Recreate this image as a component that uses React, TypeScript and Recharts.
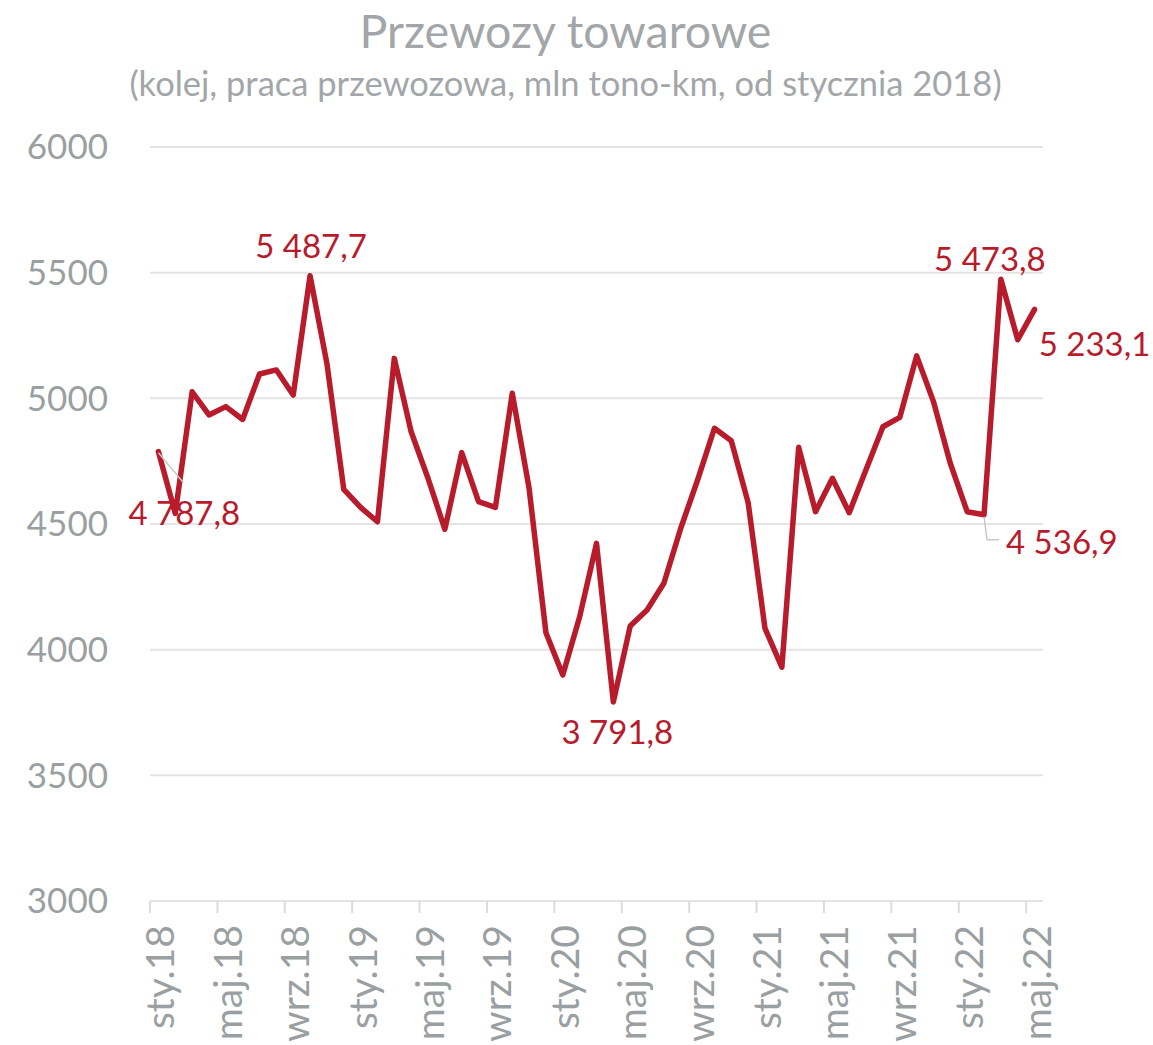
import { LineChart, Line, XAxis, YAxis, CartesianGrid, LabelList } from 'recharts'

const MONTHS = ['sty', 'lut', 'mar', 'kwi', 'maj', 'cze', 'lip', 'sie', 'wrz', 'paź', 'lis', 'gru']
const YEARS = ['18', '19', '20', '21', '22']

// mln tono-km, Jan 2018 .. May 2022
const values = [
  4787.8, 4542, 5026, 4934, 4967, 4916, 5097, 5113, 5013, 5487.7, 5139, 4638,
  4566, 4509, 5159, 4867, 4682, 4479, 4784, 4589, 4566, 5020, 4642, 4067,
  3899, 4131, 4423, 3791.8, 4094, 4158, 4264, 4483, 4675, 4881, 4831, 4585,
  4085, 3930, 4805, 4549, 4682, 4545, 4717, 4887, 4924, 5169, 4987, 4741,
  4549, 4536.9, 5473.8, 5233.1, 5354,
]

const categories = values.map((_, i) => `${MONTHS[i % 12]}.${YEARS[Math.floor(i / 12)]}`)
const yTicks = [3000, 3500, 4000, 4500, 5000, 5500, 6000]

const data = categories.map((c, i) => ({ month: c, value: values[i] }))

const W = 1153
const H = 1045
const PLOT_LEFT = 150
const PLOT_RIGHT = 1043
const PLOT_TOP = 147
const PLOT_BOTTOM = 901
const BAND = (PLOT_RIGHT - PLOT_LEFT) / values.length

const RED = '#b81b2c'
const GRAY = '#9a9fa2'
const FONT = 'Lato, "Noto Sans", sans-serif'

// which points get a value label, and where it sits relative to the point
const labelSpots: Record<number, { dx: number; dy: number; anchor: string; leader?: number[][] }> = {
  0: { dx: -30, dy: 60, anchor: 'start', leader: [[0, 1], [25, 31]] },
  9: { dx: 1, dy: -31, anchor: 'middle' },
  27: { dx: 4, dy: 29, anchor: 'middle' },
  49: { dx: 22, dy: 26, anchor: 'start', leader: [[0, 2], [3, 25], [15, 25]] },
  50: { dx: -11, dy: -21, anchor: 'middle' },
  51: { dx: 21, dy: 3, anchor: 'start' },
}

const fmt = (v: number) => {
  const [a, b] = v.toFixed(1).split('.')
  return `${a.replace(/\B(?=(\d{3})+(?!\d))/g, ' ')},${b}`
}

function PointLabel(props: any) {
  const { x, y, index, value } = props
  const spot = labelSpots[index]
  if (!spot) return null
  return (
    <g>
      {spot.leader && (
        <polyline
          points={spot.leader.map(([lx, ly]) => `${x + lx},${y + ly}`).join(' ')}
          fill="none"
          stroke="#c8c8c8"
          strokeWidth={1.5}
        />
      )}
      <text
        x={x + spot.dx}
        y={y + spot.dy}
        textAnchor={spot.anchor as any}
        dominantBaseline="central"
        fill={RED}
        fontSize={33}
        fontFamily={FONT}
      >
        {fmt(value)}
      </text>
    </g>
  )
}

function MonthTick(props: any) {
  const { x, y, payload } = props
  const tx = x - BAND / 2
  return (
    <g>
      <line x1={tx} y1={y} x2={tx} y2={y + 12} stroke="#dcdcdc" strokeWidth={2} />
      <text
        x={x + 1}
        y={y + 24}
        transform={`rotate(-90, ${x + 1}, ${y + 24})`}
        textAnchor="end"
        dominantBaseline="central"
        fill={GRAY}
        fontSize={39}
        fontFamily={FONT}
      >
        {payload.value}
      </text>
    </g>
  )
}

export default function App() {
  return (
    <div style={{ position: 'absolute', left: 0, top: 0, width: W, height: H, background: '#fff', fontFamily: FONT, overflow: 'hidden' }}>
      <div style={{ position: 'absolute', top: 0, left: -11, width: W, textAlign: 'center', fontSize: 46.5, color: '#a3a6a8', lineHeight: '60px' }}>
        Przewozy towarowe
      </div>
      <div style={{ position: 'absolute', top: 61, left: -11, width: W, textAlign: 'center', fontSize: 34.5, color: '#a3a6a8', lineHeight: '44px' }}>
        (kolej, praca przewozowa, mln tono-km, od stycznia 2018)
      </div>
      <LineChart
        width={W}
        height={H}
        data={data}
        margin={{ top: PLOT_TOP, right: W - PLOT_RIGHT, bottom: 0, left: 0 }}
      >
        <CartesianGrid vertical={false} stroke="#e4e4e4" strokeWidth={2} />
        <XAxis
          dataKey="month"
          scale="band"
          interval={3}
          tick={<MonthTick />}
          tickLine={false}
          tickSize={0}
          tickMargin={0}
          height={H - PLOT_BOTTOM}
          axisLine={{ stroke: '#e4e4e4', strokeWidth: 2 }}
        />
        <YAxis
          domain={[3000, 6000]}
          ticks={yTicks}
          width={PLOT_LEFT}
          axisLine={false}
          tickLine={false}
          tickSize={0}
          tickMargin={42}
          tick={{ fill: GRAY, fontSize: 35, fontFamily: FONT }}
        />
        <Line
          type="linear"
          dataKey="value"
          stroke={RED}
          strokeWidth={5.5}
          strokeLinejoin="round"
          strokeLinecap="round"
          dot={false}
          isAnimationActive={false}
        >
          <LabelList dataKey="value" content={<PointLabel />} />
        </Line>
      </LineChart>
    </div>
  )
}
